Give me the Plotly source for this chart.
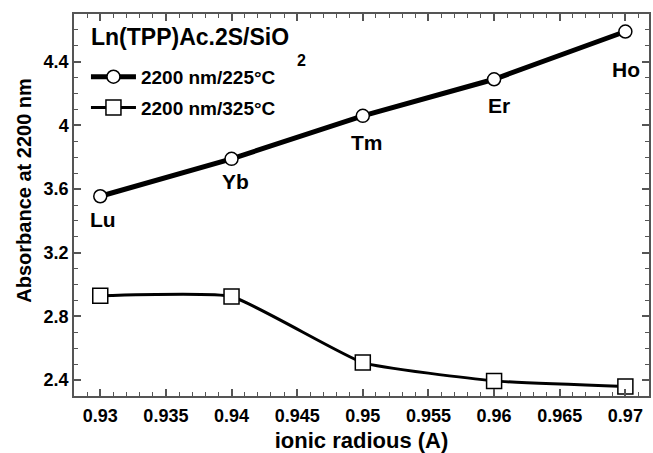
import plotly.graph_objects as go

radius = [0.93, 0.94, 0.95, 0.96, 0.97]
abs_225 = [3.555, 3.79, 4.06, 4.29, 4.59]
abs_325 = [2.93, 2.925, 2.51, 2.395, 2.36]
elements = ["Lu", "Yb", "Tm", "Er", "Ho"]
label_shift_x = [3, 4, 4, 5, 1]
label_shift_y = [-23, -23, -27, -26, -38]
x_ticks = [0.93, 0.935, 0.94, 0.945, 0.95, 0.955, 0.96, 0.965, 0.97]
y_ticks = [2.4, 2.8, 3.2, 3.6, 4.0, 4.4]
y_tick_text = ["2.4", "2.8", "3.2", "3.6", "4", "4.4"]

FONT = "Liberation Sans, Arial, sans-serif"
L, R, T, B, W, H = 74, 2, 14, 56, 653, 453
PW, PH = W - L - R, H - T - B


def px_x(p):
    return (p - L) / PW


def px_y(p):
    return 1 - (p - T) / PH


fig = go.Figure()
fig.add_trace(go.Scatter(
    x=radius, y=abs_225, mode="lines+markers", name="<b>2200 nm/225°C</b>",
    legendgroup="a",
    line=dict(color="black", width=5),
    marker=dict(symbol="circle", size=13, color="white", line=dict(color="black", width=1.5)),
))
fig.add_trace(go.Scatter(
    x=radius, y=abs_325, mode="lines+markers", name="<b>2200 nm/325°C</b>",
    legendgroup="b",
    line=dict(color="black", width=3, shape="spline", smoothing=0.4),
    marker=dict(symbol="square", size=15, color="white", line=dict(color="black", width=1.5)),
))

for xv, yv, t, sx, sy in zip(radius, abs_225, elements, label_shift_x, label_shift_y):
    fig.add_annotation(x=xv, y=yv, xref="x", yref="y", text=f"<b>{t}</b>", showarrow=False,
                       xshift=sx, yshift=sy, font=dict(family=FONT, size=21, color="black"))

# legend heading and y-axis title
fig.add_annotation(x=px_x(89), y=px_y(37), xref="paper", yref="paper", xanchor="left", yanchor="middle",
                   text="<b>Ln(TPP)Ac.2S/SiO</b>", showarrow=False,
                   font=dict(family=FONT, size=23, color="black"))
fig.add_annotation(x=px_x(302), y=px_y(61), xref="paper", yref="paper", xanchor="center", yanchor="middle",
                   text="<b>2</b>", showarrow=False,
                   font=dict(family=FONT, size=16, color="black"))
fig.add_annotation(x=px_x(23), y=px_y(191), xref="paper", yref="paper", xanchor="center", yanchor="middle",
                   text="<b>Absorbance at 2200 nm</b>", textangle=-90, showarrow=False,
                   font=dict(family=FONT, size=20, color="black"))

axis_common = dict(
    showline=True, linecolor="#555", linewidth=1.5, mirror="ticks",
    ticks="inside", tickcolor="#555", tickwidth=1.5, ticklen=7,
    showgrid=False, zeroline=False,
    tickfont=dict(family=FONT, size=18, color="black"),
)

fig.update_xaxes(
    range=[0.928, 0.9718], tickvals=x_ticks, ticktext=[f"<b>{v:g}</b>" for v in x_ticks],
    minor=dict(dtick=0.001, tick0=0.93, ticks="inside", ticklen=4, tickcolor="#555", tickwidth=1.2),
    title=dict(text="<b>ionic radious (A)</b>", font=dict(family=FONT, size=22, color="black"), standoff=9),
    ticklabelstandoff=3,
    **axis_common,
)
fig.update_yaxes(
    range=[2.3, 4.7], tickvals=y_ticks, ticktext=[f"<b>{t}</b>" for t in y_tick_text],
    minor=dict(dtick=0.1, tick0=2.4, ticks="inside", ticklen=4, tickcolor="#555", tickwidth=1.2),
    ticklabelstandoff=0,
    **axis_common,
)

fig.update_layout(
    width=W, height=H,
    margin=dict(l=L, r=R, t=T, b=B),
    paper_bgcolor="white", plot_bgcolor="white",
    showlegend=True,
    legend=dict(
        x=px_x(86), y=px_y(58), xanchor="left", yanchor="top",
        bgcolor="rgba(0,0,0,0)",
        font=dict(family=FONT, size=19, color="black"),
        tracegroupgap=3,
        itemwidth=45,
    ),
)

fig.write_html("out.html", post_script="document.body.style.margin='0';",
               config={"displayModeBar": False})
